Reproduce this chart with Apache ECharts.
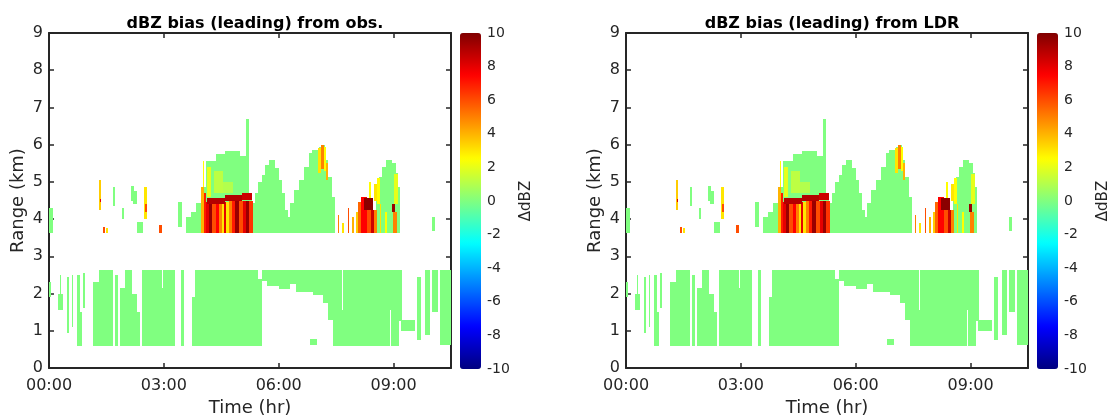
<!DOCTYPE html>
<html>
<head>
<meta charset="utf-8">
<title>dBZ bias (leading)</title>
<script src="https://cdn.jsdelivr.net/npm/echarts@6/dist/echarts.min.js"></script>
<style>
    html, body { margin: 0; padding: 0; background: #ffffff; }
    #chart { width: 1110px; height: 416px; }
</style>
</head>
<body>
<div id="chart"></div>
<script>
// axis ticks / labels
var timeTicks = [0, 3, 6, 9];
var timeLabels = ['00:00', '03:00', '06:00', '09:00'];
var timeMax = 10.5;
var rangeMax = 9;
var biasMin = -10;
var biasMax = 10;
var panelTitles = ['dBZ bias (leading) from obs.', 'dBZ bias (leading) from LDR'];

// jet colour map used for the bias
var jetColors = ['#000080', '#0000ff', '#0080ff', '#00ffff', '#80ff80', '#ffff00', '#ff8000', '#ff0000', '#800000'];

// lower echo layer, near-zero bias: [t0 (hr), t1 (hr), bottom (km), top (km)]
var lowerLayer = [
    [0.00, 0.04, 1.90, 2.30], [0.24, 0.37, 1.55, 2.00], [0.28, 0.31, 2.00, 2.50],
    [0.46, 0.52, 0.95, 2.45], [0.59, 0.63, 1.10, 2.50], [0.72, 0.80, 0.60, 2.50],
    [0.80, 0.85, 0.60, 1.50], [0.90, 0.95, 1.60, 2.55], [1.15, 1.31, 0.60, 2.30],
    [1.31, 1.67, 0.60, 2.63], [1.73, 1.81, 0.60, 2.50], [1.86, 1.99, 0.60, 2.15],
    [1.99, 2.17, 0.60, 2.63], [2.17, 2.30, 0.60, 2.00], [2.30, 2.37, 0.60, 1.50],
    [2.44, 2.95, 0.60, 2.63], [2.95, 2.98, 0.60, 2.15], [2.98, 3.28, 0.60, 2.63],
    [3.45, 3.52, 0.60, 2.63], [3.74, 3.82, 0.60, 1.90], [3.82, 5.47, 0.60, 2.63],
    [5.47, 5.57, 0.60, 2.40], [5.57, 5.70, 2.35, 2.63], [5.70, 6.00, 2.20, 2.63],
    [6.00, 6.30, 2.12, 2.63], [6.30, 6.45, 2.25, 2.63], [6.45, 6.90, 2.05, 2.63],
    [6.90, 7.15, 1.95, 2.63], [7.15, 7.30, 1.75, 2.63], [7.30, 7.43, 1.30, 2.63],
    [6.82, 7.00, 0.62, 0.78], [7.43, 7.64, 0.60, 2.63], [7.64, 7.67, 0.60, 1.55],
    [7.67, 8.90, 0.60, 2.63], [8.90, 8.93, 1.55, 2.63], [8.93, 9.14, 0.60, 2.63],
    [9.14, 9.22, 1.25, 2.63], [9.20, 9.55, 1.00, 1.30], [9.60, 9.72, 0.75, 2.45],
    [9.82, 9.95, 0.90, 2.63], [10.00, 10.15, 1.50, 2.63], [10.22, 10.50, 0.62, 2.63]
];

// upper echo layer, near-zero bias: [t0, t1, bottom, top]
var upperLayer = [
    // scattered echoes before 03:30
    [0.00, 0.10, 3.62, 4.30], [1.68, 1.73, 4.35, 4.85], [1.90, 1.96, 4.00, 4.30],
    [2.14, 2.22, 4.50, 4.90], [2.20, 2.30, 4.40, 4.75], [2.31, 2.46, 3.62, 3.92],
    [3.36, 3.48, 3.80, 4.45],
    // 03:30 - 05:20
    [3.57, 3.70, 3.62, 4.06], [3.70, 3.84, 3.62, 4.20], [3.84, 3.97, 3.62, 4.42],
    [3.97, 4.10, 3.62, 4.87], [4.10, 4.36, 3.62, 5.55], [4.36, 4.60, 3.62, 5.75],
    [4.60, 5.00, 3.62, 5.82], [5.00, 5.15, 3.62, 5.70], [5.15, 5.22, 3.62, 6.70],
    [5.22, 5.30, 3.62, 4.60],
    // 05:20 - 07:30
    [5.30, 5.39, 3.62, 4.42], [5.39, 5.47, 3.62, 4.69], [5.47, 5.56, 3.62, 5.00],
    [5.56, 5.65, 3.62, 5.18], [5.65, 5.74, 3.62, 5.45], [5.74, 5.91, 3.62, 5.59],
    [5.91, 6.00, 3.62, 5.36], [6.00, 6.09, 3.62, 5.05], [6.09, 6.17, 3.62, 4.69],
    [6.17, 6.24, 3.62, 4.25], [6.24, 6.30, 3.62, 4.07], [6.30, 6.41, 3.62, 4.42],
    [6.41, 6.54, 3.62, 4.78], [6.54, 6.67, 3.62, 5.05], [6.67, 6.78, 3.62, 5.41],
    [6.78, 6.87, 3.62, 5.77], [6.87, 7.05, 3.62, 5.86], [7.05, 7.13, 3.62, 5.95],
    [7.13, 7.22, 3.62, 6.00], [7.22, 7.30, 3.62, 5.59], [7.30, 7.39, 3.62, 5.14],
    [7.39, 7.48, 3.62, 4.60],
    // 08:30 - 09:10
    [8.53, 8.62, 3.62, 4.69], [8.62, 8.70, 3.62, 5.14], [8.70, 8.79, 3.62, 5.41],
    [8.79, 8.97, 3.62, 5.59], [8.97, 9.06, 3.62, 5.50], [9.06, 9.12, 3.62, 5.23],
    [9.12, 9.18, 3.62, 4.87], [10.00, 10.08, 3.67, 4.05]
];

// cells with a clear bias: [t0, t1, bottom, top, dBZ bias]
var biasCells = [
    [1.31, 1.37, 4.25, 5.05, 3.5], [1.33, 1.36, 4.45, 4.55, 8], [1.42, 1.46, 3.62, 3.80, 6],
    [1.50, 1.54, 3.62, 3.75, 3], [2.48, 2.55, 4.00, 4.85, 3], [2.52, 2.55, 4.20, 4.40, 6],
    [2.88, 2.96, 3.62, 3.85, 6],
    [3.97, 4.04, 3.62, 4.85, 4], [4.02, 4.06, 4.85, 5.55, 2.5], [4.04, 4.10, 3.62, 4.70, 7],
    [4.12, 4.22, 4.60, 5.40, 2], [4.30, 4.55, 4.70, 5.30, 1.2], [4.55, 4.80, 4.70, 5.00, 1],
    [4.10, 4.18, 3.62, 4.45, 8], [4.18, 4.26, 3.62, 4.45, 9.5], [4.26, 4.36, 3.62, 4.45, 6],
    [4.36, 4.45, 3.62, 4.45, 7.5], [4.45, 4.52, 3.62, 4.45, 5], [4.52, 4.70, 3.62, 4.45, 3],
    [4.56, 4.62, 3.62, 4.45, 8], [4.70, 4.78, 3.62, 4.48, 5], [4.78, 4.86, 3.62, 4.48, 7],
    [4.86, 4.96, 3.62, 4.48, 9.5], [4.96, 5.06, 3.62, 4.48, 6], [5.06, 5.14, 3.62, 4.50, 8],
    [5.14, 5.22, 3.62, 4.50, 9.5], [5.22, 5.32, 3.62, 4.50, 6.5],
    [4.12, 4.60, 4.40, 4.58, 9], [4.60, 5.05, 4.48, 4.66, 9], [5.05, 5.30, 4.52, 4.70, 8.5],
    [7.02, 7.10, 5.25, 5.90, 3], [7.10, 7.17, 5.35, 6.00, 5], [7.17, 7.24, 5.30, 5.95, 2.5],
    [7.24, 7.30, 5.05, 5.50, 4],
    [7.55, 7.58, 3.62, 4.10, 5], [7.66, 7.70, 3.62, 3.90, 3], [7.80, 7.84, 3.62, 4.30, 6],
    [7.92, 7.96, 3.62, 4.05, 4], [8.02, 8.08, 3.62, 4.20, 3.5], [8.08, 8.16, 3.62, 4.45, 5.5],
    [8.16, 8.30, 3.62, 4.60, 7.5], [8.30, 8.40, 3.62, 4.25, 6], [8.40, 8.50, 3.62, 4.25, 8.5],
    [8.50, 8.58, 3.62, 4.25, 5], [8.22, 8.45, 4.25, 4.58, 9.8], [8.35, 8.42, 4.58, 5.00, 2.5],
    [8.50, 8.56, 4.50, 4.95, 3], [8.58, 8.64, 4.40, 5.10, 2.5], [8.64, 8.68, 3.62, 4.40, 3],
    [8.78, 8.82, 3.62, 4.20, 2.5], [8.95, 9.05, 4.20, 4.40, 9.5], [8.98, 9.08, 3.62, 4.20, 5],
    [9.02, 9.12, 4.40, 5.20, 2]
];

var FONT = 'DejaVu Sans';
var INK = '#262626';
var panels = [
    {grid: {left: 49, top: 33, width: 402, height: 335}, bar: 460, title: 250},
    {grid: {left: 626, top: 33, width: 402, height: 335}, bar: 1037, title: 827}
];

init();

/**
 * @description 页面初始化
 */
function init() {
    var myChart = echarts.init(document.getElementById('chart'), null, {renderer: 'canvas'});
    myChart.setOption(buildOption());
}

/**
 * @description 把无偏差回波和偏差格点拼成 [t0, t1, bottom, top, value]
 */
function buildCells() {
    var cells = [];
    lowerLayer.concat(upperLayer).forEach(function (b) {
        cells.push([b[0], b[1], b[2], b[3], 0]);
    });
    biasCells.forEach(function (b) {
        cells.push(b.slice());
    });
    return cells;
}

function renderCell(params, api) {
    var p0 = api.coord([api.value(0), api.value(3)]);
    var p1 = api.coord([api.value(1), api.value(2)]);
    var x0 = Math.round(p0[0]), x1 = Math.round(p1[0]);
    var y0 = Math.round(p0[1]), y1 = Math.round(p1[1]);
    return {
        type: 'rect',
        shape: {x: x0, y: y0, width: Math.max(1, x1 - x0), height: y1 - y0},
        style: {fill: api.visual('color')}
    };
}

function timeLabel(v) {
    var i = timeTicks.indexOf(v);
    return i < 0 ? '' : timeLabels[i];
}

// 坐标轴框线 + 朝内刻度
function frameAxis(extra) {
    var axis = {
        type: 'value',
        axisLine: {show: true, onZero: false, lineStyle: {color: INK, width: 2}},
        axisTick: {show: true, inside: true, length: 5, lineStyle: {color: INK, width: 1.5}},
        splitLine: {show: false}
    };
    for (var k in extra) {
        axis[k] = extra[k];
    }
    return axis;
}

function buildOption() {
    var grids = [], xAxes = [], yAxes = [], series = [], visualMaps = [], titles = [];
    var cells = buildCells();
    panels.forEach(function (p, i) {
        grids.push({left: p.grid.left, top: p.grid.top, width: p.grid.width, height: p.grid.height,
            show: false, containLabel: false, outerBoundsMode: 'none'});
        var xi = xAxes.length, yi = yAxes.length;
        xAxes.push(frameAxis({
            gridIndex: i, position: 'bottom', min: 0, max: timeMax, interval: 3,
            axisLabel: {formatter: timeLabel, fontSize: 16, color: INK, fontFamily: FONT, margin: 10, showMaxLabel: false},
            name: 'Time (hr)', nameLocation: 'middle', nameGap: 31,
            nameTextStyle: {fontSize: 18, color: INK, fontFamily: FONT}
        }));
        xAxes.push(frameAxis({
            gridIndex: i, position: 'top', min: 0, max: timeMax, interval: 3,
            axisLabel: {show: false}
        }));
        yAxes.push(frameAxis({
            gridIndex: i, position: 'left', min: 0, max: rangeMax, interval: 1,
            axisLabel: {fontSize: 16, color: INK, fontFamily: FONT, margin: 6},
            name: 'Range (km)', nameLocation: 'middle', nameGap: 22, nameRotate: 90,
            nameTextStyle: {fontSize: 18, color: INK, fontFamily: FONT}
        }));
        yAxes.push(frameAxis({
            gridIndex: i, position: 'right', min: 0, max: rangeMax, interval: 1,
            axisLabel: {show: false}
        }));
        series.push({
            name: panelTitles[i], type: 'custom', xAxisIndex: xi, yAxisIndex: yi,
            renderItem: renderCell, encode: {x: [0, 1], y: [2, 3]},
            data: cells, animation: false, silent: true, z: 1
        });
        visualMaps.push({
            type: 'continuous', seriesIndex: i, dimension: 4, min: biasMin, max: biasMax,
            calculable: false, realtime: false, hoverLink: false,
            left: p.bar, top: 33, itemWidth: 21, itemHeight: 336, padding: 0,
            inRange: {color: jetColors}
        });
        titles.push({
            text: panelTitles[i], left: p.title, top: 11, textAlign: 'center',
            textStyle: {fontSize: 16, fontWeight: 'bold', color: '#000', fontFamily: FONT}
        });
    });
    // colour bar tick labels
    panels.forEach(function (p) {
        var gi = grids.length;
        grids.push({left: p.bar, top: 33, width: 21, height: 336, show: false, outerBoundsMode: 'none'});
        xAxes.push({gridIndex: gi, type: 'value', min: 0, max: 1, show: false});
        yAxes.push({
            gridIndex: gi, type: 'value', position: 'right', min: biasMin, max: biasMax, interval: 2,
            axisLine: {show: false}, axisTick: {show: false}, splitLine: {show: false},
            axisLabel: {fontSize: 14, color: INK, fontFamily: FONT, margin: 6},
            name: '\u0394dBZ', nameLocation: 'middle', nameGap: 38, nameRotate: 90,
            nameTextStyle: {fontSize: 15, color: INK, fontFamily: FONT}
        });
    });
    return {
        backgroundColor: '#ffffff',
        animation: false,
        textStyle: {fontFamily: FONT},
        title: titles,
        grid: grids,
        xAxis: xAxes,
        yAxis: yAxes,
        visualMap: visualMaps,
        series: series
    };
}
</script>
</body>
</html>
